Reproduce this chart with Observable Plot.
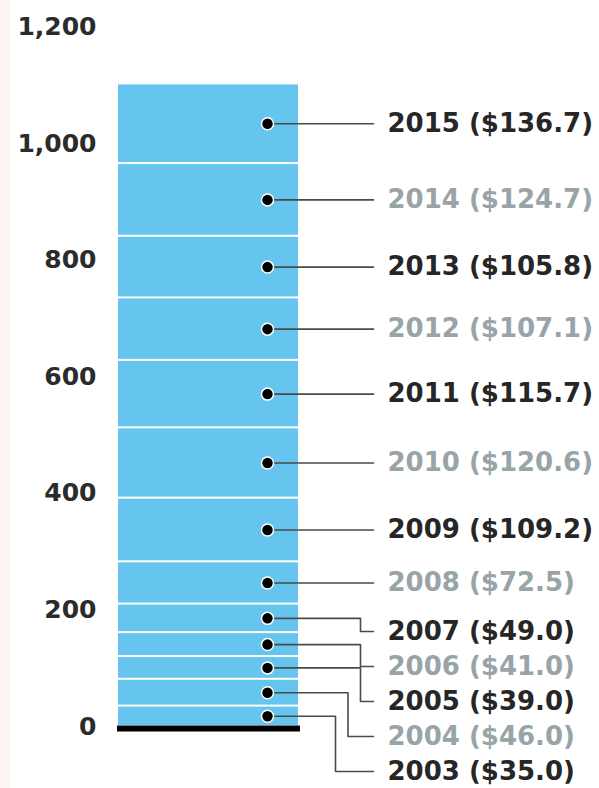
<!DOCTYPE html>
<html>
<head>
<meta charset="utf-8">
<script src="https://cdn.jsdelivr.net/npm/d3@7"></script>
<script src="https://cdn.jsdelivr.net/npm/@observablehq/plot@0.6"></script>
<style>
  html, body { margin: 0; padding: 0; }
  body { width: 599px; height: 788px; overflow: hidden;
    background: linear-gradient(to right, #fbf4f3 0px, #fbf4f3 10px, #ffffff 10px); }
  #chart svg { display: block; background: transparent; }
</style>
</head>
<body>
<div id="chart"></div>
<script>
// ---- data ----
const years = [2003, 2004, 2005, 2006, 2007, 2008, 2009, 2010, 2011, 2012, 2013, 2014, 2015];
const values = [35.0, 46.0, 39.0, 41.0, 49.0, 72.5, 109.2, 120.6, 115.7, 107.1, 105.8, 124.7, 136.7];
const yTicks = [0, 200, 400, 600, 800, 1000, 1200];

// ---- layout constants ----
const W = 599, H = 788;
const Y0 = 726, PX_PER_UNIT = 0.583;
const BAR_X1 = 118, BAR_X2 = 298, DOT_X = 267, LINE_END = 373, LABEL_X = 387;
const STACKED = 5;                 // lowest labels stacked in a column
const LABEL_STEP = 35 / PX_PER_UNIT; // spacing in data units
const LABEL_BOTTOM = -45 / PX_PER_UNIT;
const DARK = "#262626", GRAY = "#98a4a7", BLUE = "#65c5ee";
const FONT = "DejaVu Sans, sans-serif";

// cumulative stacking
let acc = 0;
const rows = years.map((year, i) => {
  const y1 = acc; acc += values[i];
  const y2 = acc;
  const mid = (y1 + y2) / 2;
  const labelY = i < STACKED ? LABEL_BOTTOM + i * LABEL_STEP : mid;
  const corner = 360 - Math.max(0, 2 - i) * 12.5;
  return {year, value: values[i], y1, y2, mid, labelY, corner, i,
          text: `${year} ($${values[i].toFixed(1)})`,
          color: i % 2 === 0 ? DARK : GRAY};
});

const leaders = rows.flatMap(r => {
  if (Math.abs(r.labelY - r.mid) < 1e-6) {
    return [{year: r.year, x: DOT_X, y: r.mid}, {year: r.year, x: LINE_END, y: r.mid}];
  }
  return [
    {year: r.year, x: DOT_X, y: r.mid},
    {year: r.year, x: r.corner, y: r.mid},
    {year: r.year, x: r.corner, y: r.labelY},
    {year: r.year, x: LINE_END, y: r.labelY}
  ];
});

const chart = Plot.plot({
  width: W, height: H,
  marginTop: 0, marginRight: 0, marginBottom: 0, marginLeft: 0,
  style: {background: "transparent", overflow: "visible"},
  x: {domain: [0, W], range: [0, W], axis: null},
  y: {domain: [0, 1200], range: [Y0, Y0 - PX_PER_UNIT * 1200], axis: null},
  marks: [
    Plot.rect(rows, {x1: BAR_X1, x2: BAR_X2, y1: "y1", y2: "y2", fill: BLUE, insetTop: 1, insetBottom: 1}),
    Plot.ruleY([0], {x1: BAR_X1 - 1, x2: BAR_X2 + 2, stroke: "#000", strokeWidth: 6, dy: 2}),
    Plot.line(leaders, {x: "x", y: "y", z: "year", stroke: "#4a4a4a", strokeWidth: 1.6, curve: "linear"}),
    Plot.dot(rows, {x: DOT_X, y: "mid", r: 6, fill: "#000", stroke: "#fff", strokeWidth: 1.5}),
    Plot.text(rows, {x: LABEL_X, y: "labelY", text: "text", fill: d => d.color, textAnchor: "start",
      fontFamily: FONT, fontSize: 26, fontWeight: "bold"}),
    Plot.text(yTicks, {x: 96, y: d => d, text: d => d3.format(",")(d), textAnchor: "end",
      fill: "#2b2b2b", fontFamily: FONT, fontSize: 25, fontWeight: "bold"})
  ]
});
document.getElementById("chart").appendChild(chart);
</script>
</body>
</html>
